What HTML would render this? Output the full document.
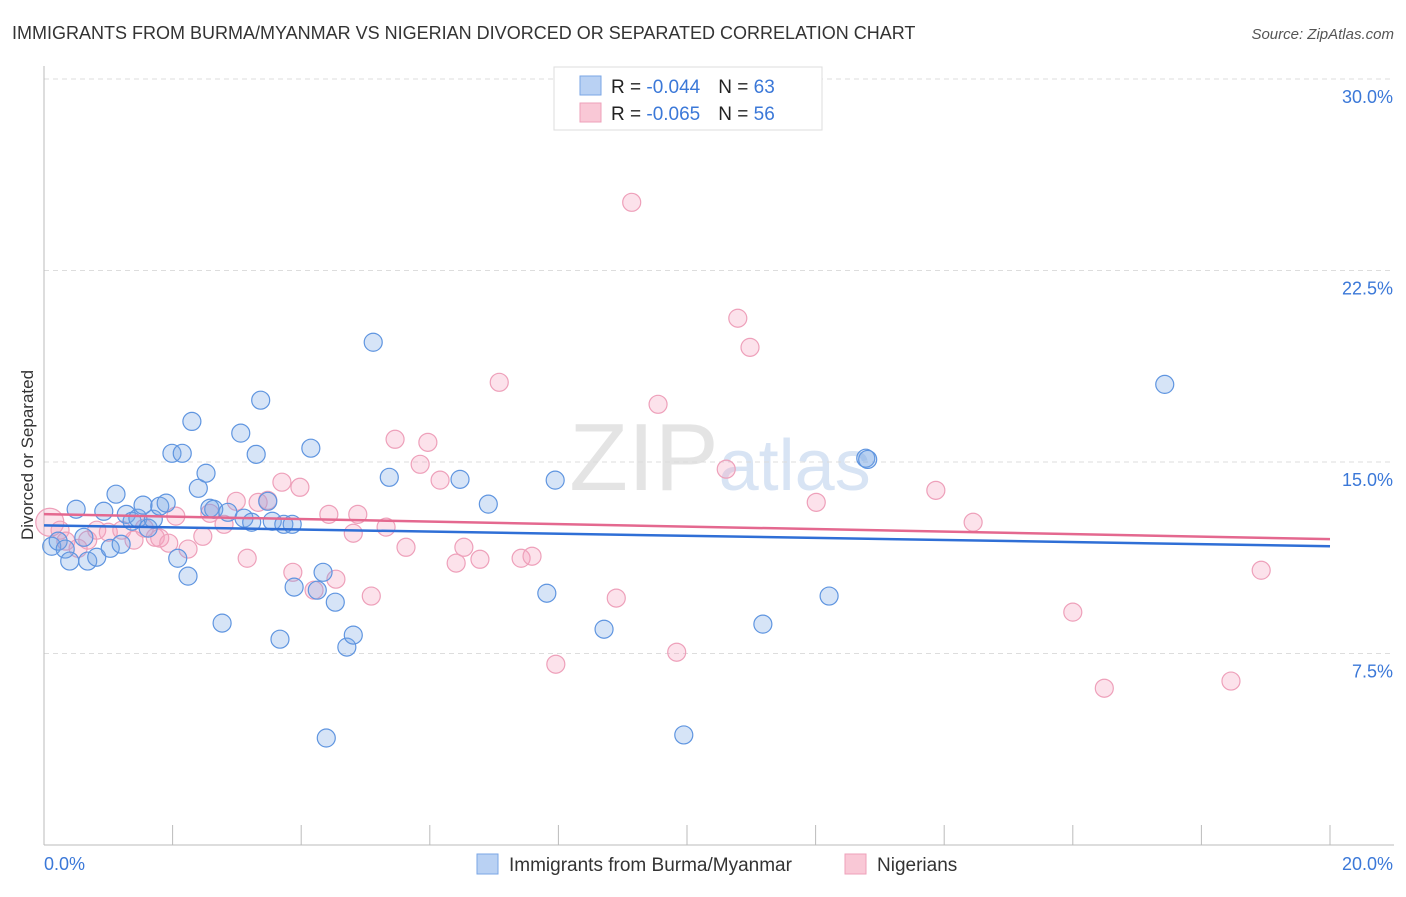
<!DOCTYPE html>
<html><head><meta charset="utf-8">
<style>
body{margin:0;background:#fff;font-family:"Liberation Sans",sans-serif;}
svg text{font-family:"Liberation Sans",sans-serif;}
</style></head><body>
<svg id="chart" width="1406" height="892" xmlns="http://www.w3.org/2000/svg">
<text x="12" y="39" font-size="18" fill="#333">IMMIGRANTS FROM BURMA/MYANMAR VS NIGERIAN DIVORCED OR SEPARATED CORRELATION CHART</text>
<text x="1394" y="39" font-size="15" fill="#555" font-style="italic" text-anchor="end">Source: ZipAtlas.com</text>
<text x="720" y="490" font-size="96" text-anchor="middle" fill="#e4e4e4" font-family="Liberation Serif"><tspan>ZIP</tspan><tspan fill="#d8e4f4" font-family="Liberation Sans" font-size="72">atlas</tspan></text>
<text transform="translate(33,455) rotate(-90)" font-size="17" fill="#333" text-anchor="middle">Divorced or Separated</text>
<g id="axes"></g>
<g id="marks"></g>
<g>
<rect x="554" y="67" width="268" height="63" fill="#fff" stroke="#ddd"/>
<rect x="580" y="76" width="21" height="19" fill="#b9d1f3" stroke="#7aa6e6"/>
<rect x="580" y="103" width="21" height="19" fill="#f9c8d6" stroke="#eea0ba"/>
<text x="611" y="93" font-size="19" fill="#222">R = <tspan fill="#3b78d8">-0.044</tspan><tspan dx="18">N = </tspan><tspan fill="#3b78d8">63</tspan></text>
<text x="611" y="120" font-size="19" fill="#222">R = <tspan fill="#3b78d8">-0.065</tspan><tspan dx="18">N = </tspan><tspan fill="#3b78d8">56</tspan></text>
</g>
<g>
<rect x="477" y="854" width="21" height="20" fill="#b9d1f3" stroke="#7aa6e6"/>
<text x="509" y="871" font-size="19" fill="#333">Immigrants from Burma/Myanmar</text>
<rect x="845" y="854" width="21" height="20" fill="#f9c8d6" stroke="#eea0ba"/>
<text x="877" y="871" font-size="19" fill="#333">Nigerians</text>
</g>
</svg>
<script>
const yTicks=[7.5,15,22.5,30];
const yTickLabels=["7.5%","15.0%","22.5%","30.0%"];
const xTicks=[0,2,4,6,8,10,12,14,16,18,20];
const xEndLabels=["0.0%","20.0%"];
const blueX=[0.12,0.22,0.33,0.40,0.50,0.62,0.68,0.82,0.93,1.03,1.12,1.20,1.28,1.37,1.46,1.54,1.62,1.70,1.80,1.90,1.99,2.08,2.15,2.24,2.30,2.40,2.52,2.58,2.64,2.77,2.86,3.06,3.11,3.23,3.30,3.37,3.48,3.55,3.67,3.73,3.86,3.89,4.15,4.25,4.34,4.39,4.53,4.71,4.81,5.12,5.37,6.47,6.91,7.82,7.95,8.71,9.95,11.18,12.21,12.78,12.81,17.43];
const blueY=[11.70,11.90,11.59,11.12,13.15,12.05,11.12,11.27,13.07,11.62,13.74,11.78,12.95,12.68,12.80,13.31,12.41,12.76,13.27,13.39,15.34,11.23,15.34,10.53,16.59,13.97,14.56,13.19,13.15,8.69,13.03,16.13,12.80,12.64,15.30,17.42,13.46,12.68,8.06,12.56,12.56,10.10,15.54,9.98,10.68,4.19,9.51,7.75,8.22,19.69,14.40,14.32,13.35,9.86,14.29,8.45,4.31,8.65,9.75,15.15,15.10,18.04];
const pinkX=[0.09,0.25,0.34,0.53,0.68,0.82,1.00,1.21,1.40,1.56,1.73,1.80,1.94,2.05,2.24,2.47,2.58,2.80,2.99,3.16,3.33,3.48,3.70,3.87,3.98,4.20,4.43,4.54,4.81,4.88,5.09,5.32,5.46,5.63,5.85,5.97,6.16,6.41,6.53,6.78,7.08,7.42,7.59,7.96,8.90,9.14,9.55,9.84,10.61,10.79,10.98,12.01,13.87,14.45,16.00,16.49,18.46,18.93];
const pinkY=[12.64,12.33,11.90,11.62,11.94,12.33,12.25,12.33,11.94,12.41,12.05,12.02,11.82,12.88,11.59,12.09,12.99,12.56,13.46,11.23,13.42,13.50,14.21,10.68,14.01,9.98,12.95,10.41,12.21,12.95,9.75,12.45,15.89,11.66,14.91,15.77,14.29,11.04,11.66,11.19,18.12,11.23,11.31,7.08,9.67,25.17,17.26,7.55,14.72,20.63,19.49,13.42,13.89,12.64,9.12,6.14,6.42,10.76];
const blueTrend=[12.52,11.70];
const pinkTrend=[12.96,11.98];
const X0=44,X1=1330,Y0=845,YTOP=79;
const sx=v=>X0+(v-0)/20*(X1-X0);
const sy=v=>Y0-(v/30)*(Y0-YTOP);
const NS="http://www.w3.org/2000/svg";
const axes=document.getElementById('axes'),marks=document.getElementById('marks');
function mk(tag,attrs,parent){const e=document.createElementNS(NS,tag);for(const k in attrs)e.setAttribute(k,attrs[k]);parent.appendChild(e);return e;}
yTicks.forEach((t,i)=>{
 const g=mk('line',{x1:X0,x2:1394,y1:sy(t),y2:sy(t),stroke:'#ddd','stroke-dasharray':'5,4'},axes);
 
 
 const l=mk('text',{x:1393,y:sy(t)+24,'font-size':18,fill:'#3b78d8','text-anchor':'end'},axes);
 l.textContent=yTickLabels[i];
 
 
});
const ya=mk('line',{x1:X0,x2:X0,y1:66,y2:Y0,stroke:'#bbb'},axes);


const xa=mk('line',{x1:X0,x2:1394,y1:Y0,y2:Y0,stroke:'#bbb'},axes);


xTicks.forEach(t=>{
 const tk=mk('line',{x1:sx(t),x2:sx(t),y1:Y0,y2:Y0-20,stroke:'#bbb'},axes);
 
 
});
const xl0=mk('text',{x:44,y:870,'font-size':18,fill:'#3b78d8'},axes);xl0.textContent=xEndLabels[0];


const xl1=mk('text',{x:1393,y:870,'font-size':18,fill:'#3b78d8','text-anchor':'end'},axes);xl1.textContent=xEndLabels[1];


pinkX.forEach((x,i)=>{
 const c=mk('circle',{cx:sx(x),cy:sy(pinkY[i]),r:i===0?14:9,fill:'rgba(244,160,190,0.3)',stroke:'#eea0ba','stroke-width':1.2},marks);
 
 
});
blueX.forEach((x,i)=>{
 const c=mk('circle',{cx:sx(x),cy:sy(blueY[i]),r:9,fill:'rgba(120,165,230,0.3)',stroke:'#5f95e0','stroke-width':1.2},marks);
 
 
});
const bl=mk('line',{x1:sx(0),x2:sx(20),y1:sy(blueTrend[0]),y2:sy(blueTrend[1]),stroke:'#2f6fd6','stroke-width':2.5},marks);


const pl=mk('line',{x1:sx(0),x2:sx(20),y1:sy(pinkTrend[0]),y2:sy(pinkTrend[1]),stroke:'#e4688f','stroke-width':2.5},marks);


</script>
</body></html>
